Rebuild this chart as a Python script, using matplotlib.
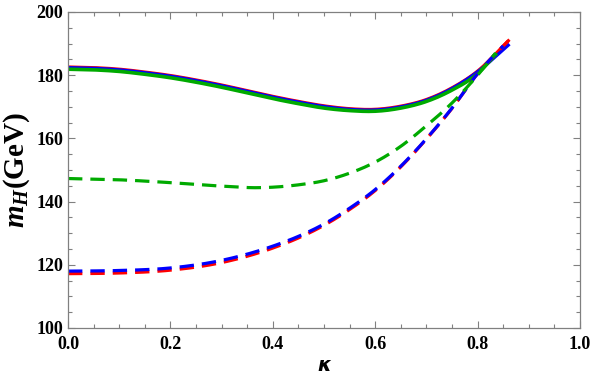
import numpy as np
import matplotlib
matplotlib.use('Agg')
from matplotlib import pyplot as plt
from matplotlib.ticker import MultipleLocator

plt.rcParams['font.family'] = 'Liberation Serif'
plt.rcParams['font.weight'] = 'bold'
plt.rcParams['mathtext.fontset'] = 'custom'
plt.rcParams['mathtext.rm'] = 'Liberation Serif:bold'
plt.rcParams['mathtext.it'] = 'Liberation Serif:bold:italic'
plt.rcParams['mathtext.bf'] = 'Liberation Serif:bold'

# solid curves
k_solid = [0, 0.05, 0.1, 0.15, 0.2, 0.25, 0.3, 0.35, 0.4, 0.45, 0.5, 0.55, 0.6, 0.65, 0.7, 0.75, 0.8, 0.86]
m_solid_red = [182.6, 182.4, 181.9, 181.0, 179.9, 178.5, 176.9, 175.1, 173.3, 171.7, 170.3, 169.4, 169.2, 170.2, 172.3, 176.0, 181.3, 190.9]
m_solid_blue = [182.4, 182.2, 181.7, 180.8, 179.7, 178.3, 176.7, 174.9, 173.1, 171.5, 170.1, 169.2, 169.0, 170.0, 172.1, 175.8, 181.1, 189.5]
k_solid_green = [0, 0.05, 0.1, 0.15, 0.2, 0.25, 0.3, 0.35, 0.4, 0.45, 0.5, 0.55, 0.6, 0.65, 0.7, 0.75, 0.8, 0.835]
m_solid_green = [181.9, 181.7, 181.2, 180.3, 179.2, 177.8, 176.2, 174.4, 172.6, 171.0, 169.6, 168.8, 168.6, 169.6, 171.7, 175.3, 180.5, 186.5]

# dashed curves
k_dash = [0, 0.1, 0.2, 0.3, 0.4, 0.45, 0.5, 0.55, 0.6, 0.65, 0.7, 0.75, 0.8, 0.86]
m_dash_red = [117.2, 117.4, 118.3, 120.7, 125.3, 128.5, 132.5, 137.5, 143.5, 151.0, 159.8, 169.5, 180.5, 190.9]
k_dash_blue = [0, 0.1, 0.2, 0.3, 0.4, 0.45, 0.5, 0.55, 0.6, 0.65, 0.7, 0.75, 0.8, 0.85]
m_dash_blue = [118.0, 118.2, 119.0, 121.4, 125.9, 129.0, 132.9, 137.9, 143.8, 151.2, 159.9, 169.6, 180.5, 189.3]
k_dash_green = [0, 0.1, 0.2, 0.3, 0.37, 0.45, 0.5, 0.55, 0.6, 0.65, 0.7, 0.75, 0.8, 0.835]
m_dash_green = [147.3, 146.9, 146.0, 144.9, 144.4, 145.3, 146.6, 149.0, 152.5, 157.5, 164.0, 171.2, 180.0, 187.0]


def smooth(x, y, n=200):
    # piecewise cubic hermite through the read points
    x = np.asarray(x, float)
    y = np.asarray(y, float)
    xs = np.linspace(x[0], x[-1], n)
    d = np.gradient(y, x)
    ys = np.empty_like(xs)
    for i, xv in enumerate(xs):
        j = min(np.searchsorted(x, xv, side='right') - 1, len(x) - 2)
        h = x[j + 1] - x[j]
        t = (xv - x[j]) / h
        h00 = 2 * t**3 - 3 * t**2 + 1
        h10 = t**3 - 2 * t**2 + t
        h01 = -2 * t**3 + 3 * t**2
        h11 = t**3 - t**2
        ys[i] = h00 * y[j] + h10 * h * d[j] + h01 * y[j + 1] + h11 * h * d[j + 1]
    return xs, ys


red = '#ff0000'
blue = '#0000ff'
green = '#00aa00'

fig = plt.figure(figsize=(5.91, 3.82), dpi=100)
ax = fig.add_axes([68 / 591, 1 - 328 / 382, 512 / 591, 316 / 382])

lw = 2.3
ax.plot(*smooth(k_solid, m_solid_red), color=red, lw=lw)
ax.plot(*smooth(k_solid, m_solid_blue), color=blue, lw=lw)
ax.plot(*smooth(k_solid_green, m_solid_green), color=green, lw=2.6)

ax.plot(*smooth(k_dash, m_dash_red), color=red, lw=lw, dashes=(4.5, 2.5))
ax.plot(*smooth(k_dash_blue, m_dash_blue), color=blue, lw=lw, dashes=(4.5, 2.5))
ax.plot(*smooth(k_dash_green, m_dash_green), color=green, lw=lw, dashes=(4.5, 2.5))

ax.set_xlim(0, 1)
ax.set_ylim(100, 200)
ax.xaxis.set_major_locator(MultipleLocator(0.2))
ax.xaxis.set_minor_locator(MultipleLocator(0.05))
ax.yaxis.set_major_locator(MultipleLocator(20))
ax.yaxis.set_minor_locator(MultipleLocator(5))
ax.xaxis.set_major_formatter(plt.FuncFormatter(lambda v, p: f'{v:.1f}'))
ax.tick_params(which='both', direction='in', top=True, right=True, color='#808080', width=0.8)
ax.tick_params(which='major', length=5, labelsize=13)
ax.tick_params(axis='x', which='major', pad=6)
ax.tick_params(which='minor', length=3)
for lab in ax.get_xticklabels() + ax.get_yticklabels():
    lab.set_fontweight('bold')
for s in ax.spines.values():
    s.set_color('#808080')
    s.set_linewidth(0.9)

ax.set_xlabel('\u03ba', fontsize=14, fontfamily='DejaVu Sans', fontweight='bold',
              fontstyle='italic', labelpad=2)
ax.set_ylabel(r'$m_H$(GeV)', fontsize=21, fontweight='bold', labelpad=3)

fig.savefig('out.png', dpi=100)
